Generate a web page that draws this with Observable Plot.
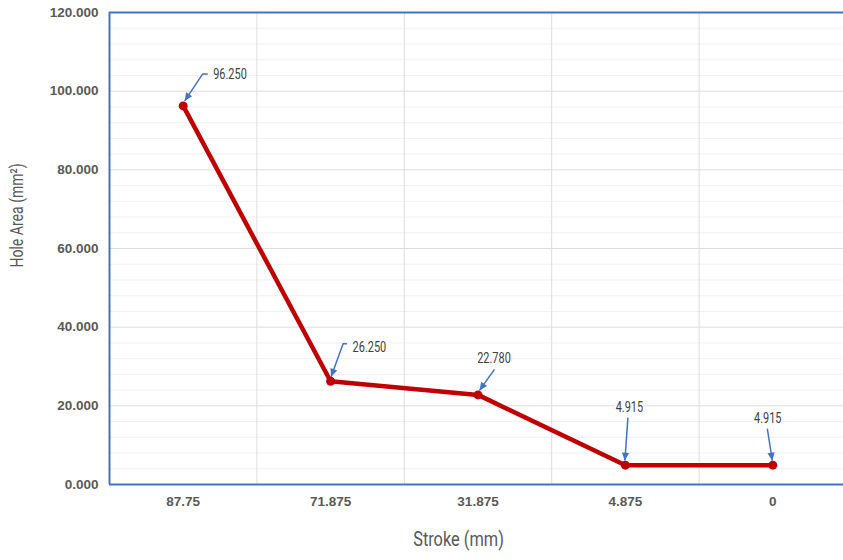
<!DOCTYPE html>
<html><head><meta charset="utf-8">
<script src="https://cdn.jsdelivr.net/npm/d3@7"></script>
<script src="https://cdn.jsdelivr.net/npm/@observablehq/plot@0.6"></script>
<style>
body{margin:0;background:#fff}
#chart svg g[aria-label$="tick label"]{font-weight:bold;fill:#595959}
</style>
</head><body><div id="chart"></div>
<script>
// ---- data ----
const strokes = ["87.75", "71.875", "31.875", "4.875", "0"];
const holeArea = [96.25, 26.25, 22.78, 4.915, 4.915];
const valueLabels = ["96.250", "26.250", "22.780", "4.915", "4.915"];
const yTicks = [0, 20, 40, 60, 80, 100, 120];
const yMinor = [4, 8, 12, 16, 24, 28, 32, 36, 44, 48, 52, 56, 64, 68, 72, 76, 84, 88, 92, 96, 104, 108, 112, 116];
const xTitle = "Stroke (mm)";
const yTitle = "Hole Area (mm²)";

// ---- styling of callouts (pixel offsets from the point) ----
const callouts = [
  {tx: 30, ty: -31, anchor: "start", path: [[25, -31.5], [20, -31.5], [2, -4.5]]},
  {tx: 22, ty: -34, anchor: "start", path: [[17, -37], [13, -37], [1, -4]]},
  {tx: 16, ty: -36, anchor: "middle", path: [[17, -25], [2, -4]]},
  {tx: 4, ty: -58, anchor: "middle", path: [[3, -47], [0, -4]]},
  {tx: -5, ty: -47, anchor: "middle", path: [[-5, -36], [0, -4]]}
];

const data = strokes.map((s, i) => ({i, stroke: s, area: holeArea[i], label: valueLabels[i]}));
const blue = "#4472C4", red = "#C00000";
const narrow = "Roboto, 'DejaVu Sans', sans-serif";

const plot = Plot.plot({
  width: 843, height: 560,
  marginLeft: 109, marginRight: 0, marginTop: 12, marginBottom: 76,
  style: {fontFamily: "'Liberation Sans', Arial, sans-serif", fontSize: "13.5px", background: "white", color: "#595959"},
  x: {type: "linear", domain: [-0.5, 4.5], range: [109, 846], ticks: strokes.map((s, i) => i),
      tickFormat: i => strokes[i], tickSize: 0, tickPadding: 12, label: null},
  y: {domain: [0, 120], ticks: yTicks, tickFormat: d3.format(".3f"), tickSize: 0, tickPadding: 11, label: null},
  marks: [
    Plot.ruleY(yMinor, {stroke: "#f0f0f0", strokeWidth: 1}),
    Plot.ruleY(yTicks, {stroke: "#dcdcdc", strokeWidth: 1}),
    Plot.ruleX([0.5, 1.5, 2.5, 3.5], {stroke: "#dcdcdc", strokeWidth: 1}),
    Plot.ruleY([0, 120], {stroke: blue, strokeWidth: 2}),
    Plot.ruleX([-0.5], {stroke: blue, strokeWidth: 2}),
    Plot.line(data, {x: "i", y: "area", stroke: red, strokeWidth: 4.5, strokeLinejoin: "round"}),
    Plot.dot(data, {x: "i", y: "area", r: 4.5, fill: red}),
    ...data.map((d, k) => Plot.text([d], {
      x: "i", y: "area", text: "label", dx: callouts[k].tx, dy: callouts[k].ty,
      textAnchor: callouts[k].anchor, fill: "#404040", stroke: "white", strokeWidth: 5,
      fontFamily: narrow, fontSize: 14
    })),
    Plot.text([xTitle], {frameAnchor: "bottom", textAnchor: "middle", dx: -18, dy: 61, fill: "#595959",
      fontFamily: narrow, fontSize: 21}),
    Plot.text([yTitle], {frameAnchor: "left", textAnchor: "middle", rotate: -90, dx: -92, dy: -33, fill: "#595959",
      fontFamily: narrow, fontSize: 18})
  ]
});

// callout arrows positioned through the plot's scales
const sx = plot.scale("x"), sy = plot.scale("y");
const svg = d3.select(plot);
const g = svg.append("g").attr("aria-label", "callout arrows");
data.forEach((d, k) => {
  const px = sx.apply(d.i), py = sy.apply(d.area);
  const pts = callouts[k].path.map(([ox, oy]) => [px + ox, py + oy]);
  g.append("path").attr("d", d3.line()(pts)).attr("fill", "none")
    .attr("stroke", blue).attr("stroke-width", 1.5);
  const [ax, ay] = pts[pts.length - 2], [bx, by] = pts[pts.length - 1];
  const ang = Math.atan2(by - ay, bx - ax), L = 8, W = 3.6;
  const tip = [bx, by];
  const base = [bx - L * Math.cos(ang), by - L * Math.sin(ang)];
  const p1 = [base[0] + W * Math.sin(ang), base[1] - W * Math.cos(ang)];
  const p2 = [base[0] - W * Math.sin(ang), base[1] + W * Math.cos(ang)];
  g.append("path").attr("d", `M${tip}L${p1}L${p2}Z`).attr("fill", blue);
});

document.getElementById("chart").appendChild(plot);

// condensed look for labels and titles
svg.selectAll('g[aria-label="text"] text').each(function () {
  const w = this.getComputedTextLength();
  this.setAttribute("textLength", (w * 0.78).toFixed(1));
  this.setAttribute("lengthAdjust", "spacingAndGlyphs");
});
</script>
</body></html>
